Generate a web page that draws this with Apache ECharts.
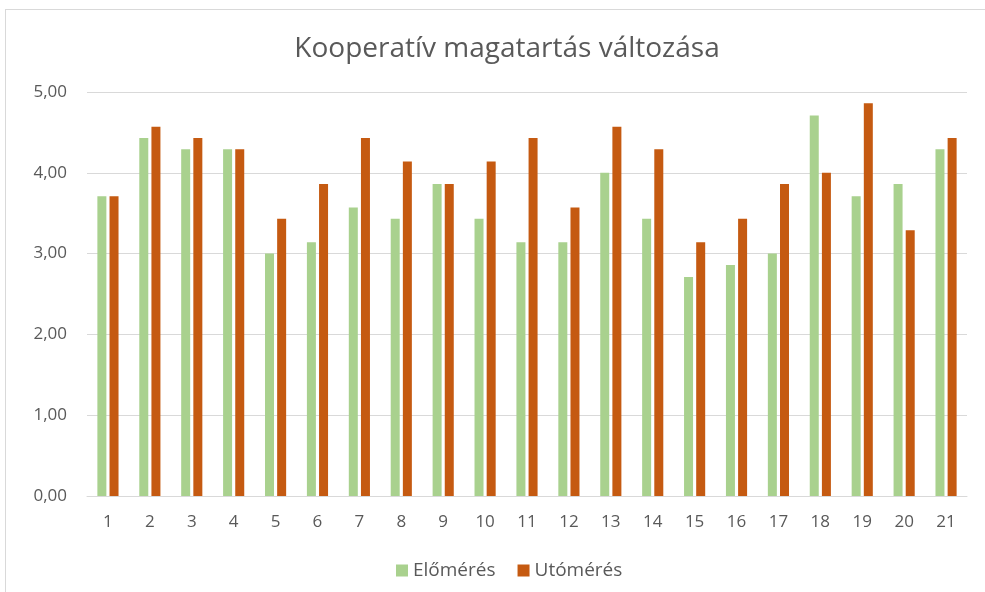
<!DOCTYPE html>
<html>
<head>
<meta charset="utf-8">
<script src="https://cdn.jsdelivr.net/npm/echarts@6/dist/echarts.min.js"></script>
<style>
  html, body { margin: 0; padding: 0; background: #fff; }
  #frame { position: absolute; left: 5px; top: 9px; width: 990px; height: 590px; border: 1px solid #d9d9d9; box-sizing: border-box; }
  #chart { position: absolute; left: 0; top: 0; width: 985px; height: 592px; }
</style>
</head>
<body>
<div id="frame"></div>
<div id="chart"></div>
<script>
const categories = ['1', '2', '3', '4', '5', '6', '7', '8', '9', '10', '11', '12', '13', '14', '15', '16', '17', '18', '19', '20', '21'];
const elomeres = [3.71, 4.43, 4.29, 4.29, 3.00, 3.14, 3.57, 3.43, 3.86, 3.43, 3.14, 3.14, 4.00, 3.43, 2.71, 2.86, 3.00, 4.71, 3.71, 3.86, 4.29];
const utomeres = [3.71, 4.57, 4.43, 4.29, 3.43, 3.86, 4.43, 4.14, 3.86, 4.14, 4.43, 3.57, 4.57, 4.29, 3.14, 3.43, 3.86, 4.00, 4.86, 3.29, 4.43];

const chart = echarts.init(document.getElementById('chart'));
const labelColor = '#595959';
const font = '"Open Sans", "Noto Sans", sans-serif';

chart.setOption({
  animation: false,
  title: {
    text: 'Kooperatív magatartás változása',
    left: 502,
    textAlign: 'center',
    top: 30,
    textStyle: { color: labelColor, fontSize: 28, fontWeight: 'normal', fontFamily: font }
  },
  legend: {
    data: ['Előmérés', 'Utómérés'],
    left: 391,
    top: 556,
    itemWidth: 12,
    itemHeight: 12,
    itemGap: 22,
    icon: 'rect',
    textStyle: { color: labelColor, fontSize: 19, fontFamily: font }
  },
  grid: { left: 87, right: 18, top: 92, bottom: 96 },
  xAxis: {
    type: 'category',
    data: categories,
    axisTick: { show: false },
    axisLine: { lineStyle: { color: '#d9d9d9', width: 1 } },
    axisLabel: { color: labelColor, fontSize: 17, margin: 18, fontFamily: font }
  },
  yAxis: {
    type: 'value',
    min: 0,
    max: 5,
    interval: 1,
    axisLine: { show: false },
    axisTick: { show: false },
    splitLine: { lineStyle: { color: '#d9d9d9', width: 1 } },
    axisLabel: {
      color: labelColor, fontSize: 17, margin: 20, fontFamily: font,
      formatter: v => v.toFixed(2).replace('.', ',')
    }
  },
  series: [
    {
      name: 'Előmérés',
      type: 'bar',
      data: elomeres,
      barWidth: 9,
      barGap: '35%',
      itemStyle: { color: '#a9d18e' }
    },
    {
      name: 'Utómérés',
      type: 'bar',
      data: utomeres,
      barWidth: 9,
      itemStyle: { color: '#c55a11' }
    }
  ]
});
</script>
</body>
</html>
